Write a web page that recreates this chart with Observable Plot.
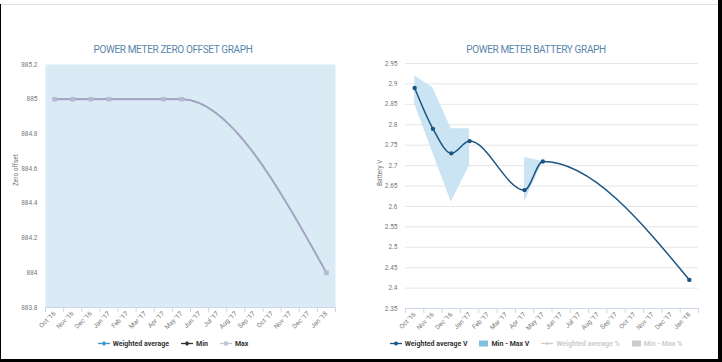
<!DOCTYPE html>
<html>
<head>
<meta charset="utf-8">
<script src="https://cdn.jsdelivr.net/npm/d3@7"></script>
<script src="https://cdn.jsdelivr.net/npm/@observablehq/plot@0.6"></script>
<style>
  body { margin: 0; background: #fff; }
  #wrap { position: relative; width: 722px; height: 362px; overflow: hidden; font-family: Roboto, "Noto Sans", sans-serif; background: #fff; }
  .abs { position: absolute; }
  .title { top: 44px; width: 300px; text-align: center; font-size: 10px; line-height: 12px; color: #5a86ab; white-space: nowrap; letter-spacing: -0.35px; }
  .legend { top: 337px; width: 360px; height: 13px; display: flex; justify-content: center; align-items: center; font-size: 7px; font-weight: bold; color: #333; white-space: nowrap; }
  .legend .item { display: flex; align-items: center; margin: 0 6px; }
  .legend svg { margin-right: 3px; }
  .hidden { color: #cccccc; }
</style>
</head>
<body>
<div id="wrap">
  <div class="abs title" style="left:23px;">POWER METER ZERO OFFSET GRAPH</div>
  <div class="abs title" style="left:386px;">POWER METER BATTERY GRAPH</div>
  <div id="left" class="abs" style="left:0px; top:55px;"></div>
  <div id="right" class="abs" style="left:361px; top:55px;"></div>
  <div id="legL" class="abs legend" style="left:-7px;"></div>
  <div id="legR" class="abs legend" style="left:356px;"></div>
  <div class="abs" style="left:0; top:4px; width:1px; height:358px; background:#000;"></div>
  <div class="abs" style="left:1px; top:4px; width:717px; height:1px; background:#e0e0e0;"></div>
  <div class="abs" style="left:718px; top:0; width:4px; height:362px; background:#000;"></div>
  <div class="abs" style="left:0; top:359px; width:722px; height:3px; background:#000;"></div>
</div>
<script>
// ---- Data ----
const months = ["Oct '16", "Nov '16", "Dec '16", "Jan '17", "Feb '17", "Mar '17", "Apr '17", "May '17",
                "Jun '17", "Jul '17", "Aug '17", "Sep '17", "Oct '17", "Nov '17", "Dec '17", "Jan '18"];

// Zero offset graph
const zeroMonths = ["Oct '16", "Nov '16", "Dec '16", "Jan '17", "Apr '17", "May '17", "Jan '18"];
const zeroAvg = [885, 885, 885, 885, 885, 885, 884];
const zeroMin = [885, 885, 885, 885, 885, 885, 884];
const zeroMax = [885, 885, 885, 885, 885, 885, 884];
const zeroTicks = [883.8, 884, 884.2, 884.4, 884.6, 884.8, 885, 885.2];

// Battery graph
const batteryMonths = ["Oct '16", "Nov '16", "Dec '16", "Jan '17", "Apr '17", "May '17", "Jan '18"];
const batteryAvg = [2.89, 2.79, 2.73, 2.76, 2.64, 2.71, 2.42];
const bandMonths = ["Oct '16", "Nov '16", "Dec '16", "Jan '17", "Feb '17", "Mar '17", "Apr '17", "May '17"];
const bandMin = [2.85, 2.73, 2.61, 2.70, null, null, 2.61, 2.71];
const bandMax = [2.92, 2.89, 2.79, 2.79, null, null, 2.72, 2.71];
const batteryTicks = [2.35, 2.4, 2.45, 2.5, 2.55, 2.6, 2.65, 2.7, 2.75, 2.8, 2.85, 2.9, 2.95];

// ---- Helpers ----
const pos = m => months.indexOf(m) + 0.5;
const boundaries = months.map((_, i) => i).concat([months.length]);
const centers = months.map((_, i) => i + 0.5);
const font = "Roboto, 'Noto Sans', sans-serif";

function xAxes() {
  return [
    Plot.axisX({ticks: boundaries, tickSize: 5, tickFormat: () => "", stroke: "#ccd6eb", strokeOpacity: 1, label: null}),
    Plot.axisX({ticks: centers, tickSize: 0, tickPadding: 5, tickRotate: -45,
                tickFormat: d => months[Math.floor(d)], fontSize: 6.5, fill: "#777", label: null})
  ];
}

// ---- Left chart ----
const zeroRows = zeroMonths.map((m, i) => ({x: pos(m), avg: zeroAvg[i], min: zeroMin[i], max: zeroMax[i]}));
const left = Plot.plot({
  width: 361, height: 285,
  marginLeft: 45, marginRight: 26, marginTop: 9, marginBottom: 33,
  style: {fontFamily: font, background: "transparent", overflow: "visible"},
  x: {domain: [0, months.length]},
  y: {domain: [883.8, 885.2]},
  marks: [
    Plot.frame({fill: "#daebf6", stroke: null}),
    Plot.axisY({ticks: zeroTicks, tickSize: 0, tickPadding: 8, fontSize: 6.5, fill: "#777",
                tickFormat: d => String(d), label: null}),
    Plot.text(["Zero offset"], {frameAnchor: "left", dx: -30, rotate: -90, fontSize: 6.5, fill: "#777"}),
    Plot.ruleY([883.8], {stroke: "#ccd6eb"}),
    ...xAxes(),
    Plot.line(zeroRows, {x: "x", y: "avg", curve: "monotone-x", stroke: "#3d94cf", strokeWidth: 0.8}),
    Plot.line(zeroRows, {x: "x", y: "min", curve: "monotone-x", stroke: "#333", strokeWidth: 0.8}),
    Plot.line(zeroRows, {x: "x", y: "max", curve: "monotone-x", stroke: "#a6a6c4", strokeWidth: 2}),
    Plot.dot(zeroRows, {x: "x", y: "max", symbol: "square", r: 2.6, fill: "#b9b9d3", stroke: null})
  ]
});
document.getElementById("left").appendChild(left);

// ---- Right chart ----
const bandRows = bandMonths.map((m, i) => ({x: pos(m), lo: bandMin[i], hi: bandMax[i]}));
const batRows = batteryMonths.map((m, i) => ({x: pos(m), v: batteryAvg[i]}));
const right = Plot.plot({
  width: 361, height: 285,
  marginLeft: 44, marginRight: 24, marginTop: 8, marginBottom: 32,
  style: {fontFamily: font, background: "transparent", overflow: "visible"},
  x: {domain: [0, months.length]},
  y: {domain: [2.35, 2.95]},
  marks: [
    Plot.gridY(batteryTicks.slice(1), {stroke: "#e6e6e6", strokeOpacity: 1}),
    Plot.axisY({ticks: batteryTicks, tickSize: 0, tickPadding: 8, fontSize: 6.5, fill: "#777",
                tickFormat: d => String(d), label: null}),
    Plot.text(["Battery V"], {frameAnchor: "left", dx: -26, rotate: -90, fontSize: 6.5, fill: "#777"}),
    Plot.ruleY([2.35], {stroke: "#ccd6eb"}),
    ...xAxes(),
    Plot.areaY(bandRows, {x: "x", y1: "lo", y2: "hi", fill: "#cbe4f3", fillOpacity: 1}),
    Plot.line(batRows, {x: "x", y: "v", curve: "monotone-x", stroke: "#1b5583", strokeWidth: 1.5}),
    Plot.dot(batRows, {x: "x", y: "v", r: 2.2, fill: "#1b5583", stroke: null})
  ]
});
document.getElementById("right").appendChild(right);

// ---- Legends ----
function lineSym(color, marker) {
  let m = "";
  if (marker === "circle") m = `<circle cx="6" cy="3.5" r="2" fill="${color}"/>`;
  if (marker === "square") m = `<rect x="4" y="1.5" width="4" height="4" fill="${color}"/>`;
  if (marker === "diamond") m = `<path d="M6 1 L8.5 3.5 L6 6 L3.5 3.5 Z" fill="${color}"/>`;
  if (marker === "small") m = `<circle cx="6" cy="3.5" r="1.3" fill="${color}"/>`;
  return `<svg width="12" height="7"><line x1="0" y1="3.5" x2="12" y2="3.5" stroke="${color}" stroke-width="1.3"/>${m}</svg>`;
}
function rectSym(color) {
  return `<svg width="9" height="7"><rect x="0" y="0.5" width="9" height="6" fill="${color}"/></svg>`;
}
const legLItems = [
  {name: "Weighted average", sym: lineSym("#3d94cf", "diamond"), cls: ""},
  {name: "Min", sym: lineSym("#333", "diamond"), cls: ""},
  {name: "Max", sym: lineSym("#c4c4da", "square"), cls: ""}
];
const legRItems = [
  {name: "Weighted average V", sym: lineSym("#1b5583", "circle"), cls: ""},
  {name: "Min - Max V", sym: rectSym("#80bfe4"), cls: ""},
  {name: "Weighted average %", sym: lineSym("#cccccc", "small"), cls: "hidden"},
  {name: "Min - Max %", sym: rectSym("#cccccc"), cls: "hidden"}
];
function fill(id, items) {
  document.getElementById(id).innerHTML = items.map(d =>
    `<div class="item ${d.cls}">${d.sym}<span>${d.name}</span></div>`).join("");
}
fill("legL", legLItems);
fill("legR", legRItems);
</script>
</body>
</html>
